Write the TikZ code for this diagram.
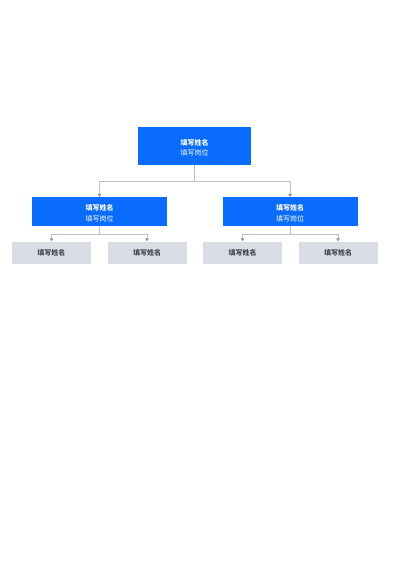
\documentclass[tikz,border=0pt]{standalone}
\usepackage{fontspec}
\newfontfamily\cjk{Noto Sans CJK SC}
\usetikzlibrary{arrows.meta}
\definecolor{headblue}{HTML}{0A6CFF}
\definecolor{staffgrey}{HTML}{DADEE4}
\definecolor{linkgrey}{HTML}{BCC1C9}
\definecolor{tipgrey}{HTML}{8A919B}
\definecolor{namegrey}{HTML}{3F4550}
\newcommand{\posttitle}[2]{\rule{0pt}{9.5pt}{\bfseries #1}\\#2}
\tikzset{
  lead/.style={fill=headblue, text=white, align=center, inner sep=0pt,
    font=\cjk\fontsize{7}{10.5}\selectfont},
  staff/.style={fill=staffgrey, text=namegrey, inner sep=0pt,
    minimum width=79pt, minimum height=22pt,
    font=\cjk\bfseries\fontsize{7}{8}\selectfont},
  link/.style={draw=linkgrey, line width=0.7pt,
    -{Triangle[width=3.5pt,length=3pt,color=tipgrey]}}
}
\begin{document}
\begin{tikzpicture}[x=1pt, y=-1pt]
    \useasboundingbox (0,0) rectangle (400,566);
    \coordinate (busT) at (194.5, 181);
    \coordinate (busL) at (99.5, 234);
    \coordinate (busR) at (290, 234);
    \node[lead, minimum width=113pt, minimum height=38pt] (boss) at (194.5, 146)
        {\posttitle{填写姓名}{填写岗位}};
    \node[lead, minimum width=135pt, minimum height=29pt] (mgrL) at (99.5, 211.5)
        {\posttitle{填写姓名}{填写岗位}};
    \node[lead, minimum width=135pt, minimum height=29pt] (mgrR) at (290, 211.5)
        {\posttitle{填写姓名}{填写岗位}};
    \node[staff] (stfA) at (51.5, 252.5) {填写姓名};
    \node[staff] (stfB) at (147, 252.5) {填写姓名};
    \node[staff] (stfC) at (242.5, 252.5) {填写姓名};
    \node[staff] (stfD) at (338, 252.5) {填写姓名};
    \draw[draw=linkgrey, line width=0.7pt] (boss.south) -- (busT);
    \draw[link] (busT) -| (mgrL.north);
    \draw[link] (busT) -| (mgrR.north);
    \draw[draw=linkgrey, line width=0.7pt] (mgrL.south) -- (busL);
    \draw[link] (busL) -| (stfA.north);
    \draw[link] (busL) -| (stfB.north);
    \draw[draw=linkgrey, line width=0.7pt] (mgrR.south) -- (busR);
    \draw[link] (busR) -| (stfC.north);
    \draw[link] (busR) -| (stfD.north);
\end{tikzpicture}
\end{document}
